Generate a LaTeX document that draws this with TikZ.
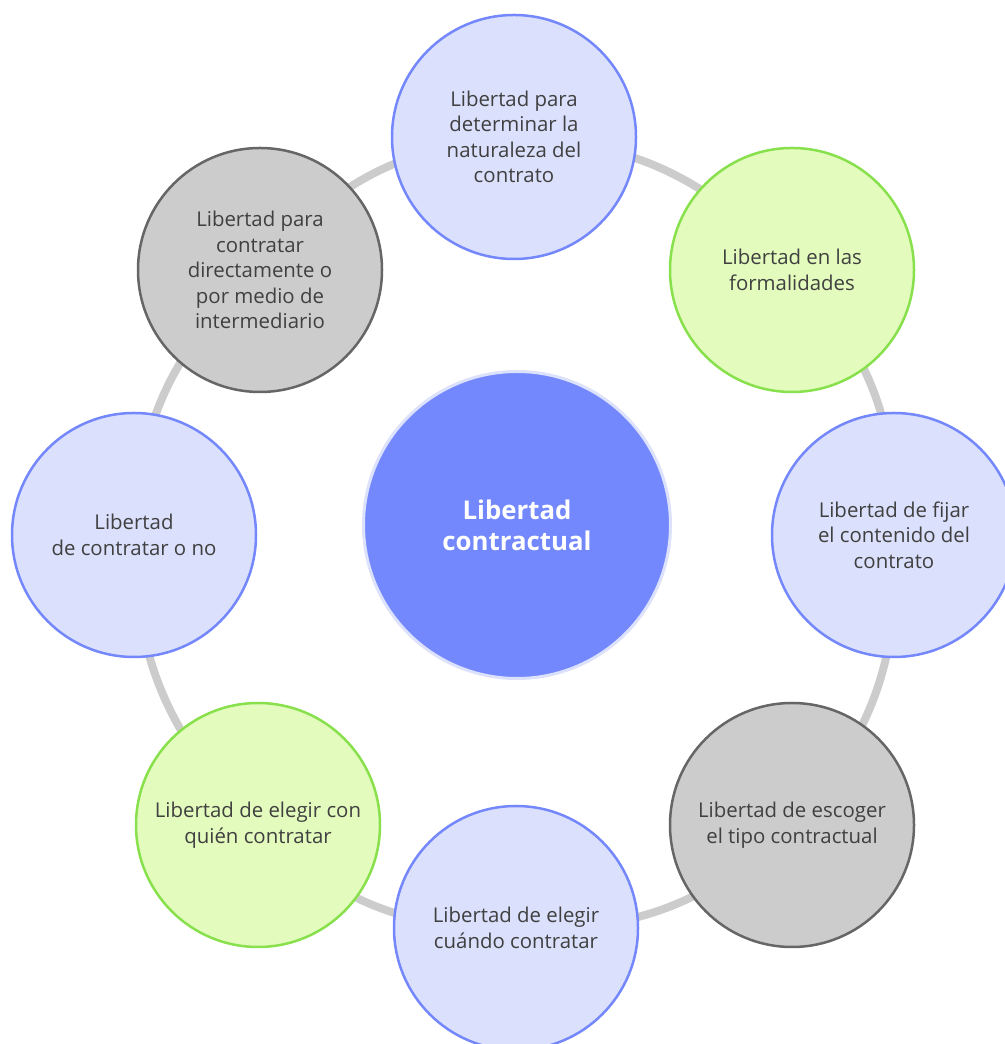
\documentclass[tikz,border=0pt]{standalone}
\usepackage{fontspec}
\setmainfont{Open Sans}
\usetikzlibrary{backgrounds}
\definecolor{azulfill}{HTML}{DBE0FC}
\definecolor{azulborde}{HTML}{7488FC}
\definecolor{verdefill}{HTML}{E3FCBD}
\definecolor{verdeborde}{HTML}{88E04C}
\definecolor{grisfill}{HTML}{CCCCCC}
\definecolor{grisborde}{HTML}{666666}
\definecolor{centrofill}{HTML}{7488FE}
\definecolor{centroborde}{HTML}{DCE1FC}
\definecolor{textogris}{HTML}{404040}
\begin{document}
\begin{tikzpicture}[x=1pt,y=1pt,
  lib/.style={shape=circle,minimum size=244pt,inner sep=0pt,line width=2.5pt,align=center,text=textogris,font=\fontsize{20.4}{25.5}\selectfont},
  azul/.style={lib,draw=azulborde,fill=azulfill},
  verde/.style={lib,draw=verdeborde,fill=verdefill},
  gris/.style={lib,draw=grisborde,fill=grisfill},
  aro/.style={draw=grisfill,line width=8pt}]
 \useasboundingbox (0,0) rectangle (1004,1044);
 \node (centro) at (517,519) [shape=circle,minimum size=307pt,line width=3pt,draw=centroborde,fill=centrofill,text=white,align=center,font=\bfseries\fontsize{25.8}{31}\selectfont] {Libertad\\contractual};
 \node (lib 1) at (514,907) [azul] {Libertad para\\determinar la\\naturaleza del\\contrato};
 \node (lib 2) at (792,774) [verde] {Libertad en las\\formalidades};
 \node (lib 3) at (894,509) [azul] {Libertad de fijar\\el contenido del\\contrato};
 \node (lib 4) at (792,219) [gris] {Libertad de escoger\\el tipo contractual};
 \node (lib 5) at (516,116) [azul] {Libertad de elegir\\cuándo contratar};
 \node (lib 6) at (258,219) [verde] {Libertad de elegir con\\quién contratar};
 \node (lib 7) at (134,509) [azul] {Libertad\\de contratar o no};
 \node (lib 8) at (260,774) [gris] {Libertad para\\contratar\\directamente o\\por medio de\\intermediario};
 \begin{scope}[on background layer]
 \draw[aro] (lib 1.center) to [bend left=23] (lib 2.center);
 \draw[aro] (lib 2.center) to [bend left=23] (lib 3.center);
 \draw[aro] (lib 3.center) to [bend left=23] (lib 4.center);
 \draw[aro] (lib 4.center) to [bend left=23] (lib 5.center);
 \draw[aro] (lib 5.center) to [bend left=23] (lib 6.center);
 \draw[aro] (lib 6.center) to [bend left=23] (lib 7.center);
 \draw[aro] (lib 7.center) to [bend left=23] (lib 8.center);
 \draw[aro] (lib 8.center) to [bend left=23] (lib 1.center);
 \end{scope}
\end{tikzpicture}
\end{document}
